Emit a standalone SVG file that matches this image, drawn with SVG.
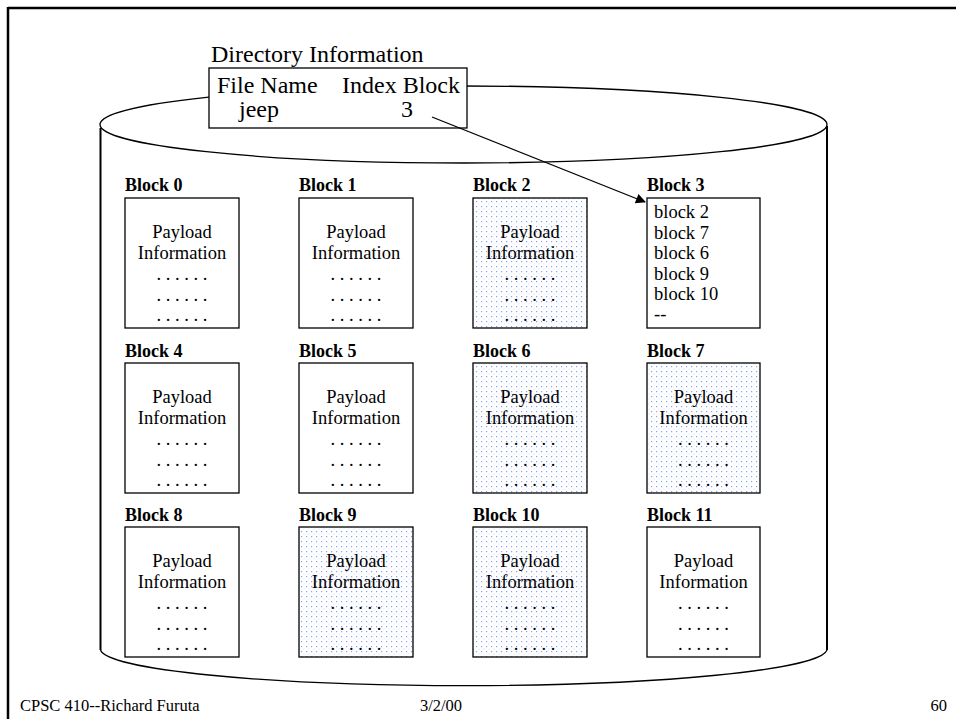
<svg xmlns="http://www.w3.org/2000/svg" width="956" height="719" viewBox="0 0 956 719">
  <defs>
    <pattern id="dots" width="5" height="5" patternUnits="userSpaceOnUse">
      <rect width="5" height="5" fill="#ffffff"/>
      <rect x="1" y="1" width="1.2" height="1.2" fill="#8aa2ee"/>
      <rect x="3.5" y="3.5" width="1" height="1" fill="#d6dff8"/>
    </pattern>
    <marker id="arrow" viewBox="0 0 10 10" refX="9" refY="5" markerWidth="14" markerHeight="10" markerUnits="userSpaceOnUse" orient="auto">
      <path d="M0,0 L10,5 L0,10 z" fill="#000"/>
    </marker>
  </defs>
  <style>
    .serif { font-family: "Liberation Serif", "Times New Roman", serif; fill: #000; }
    .lbl { font-size: 18px; font-weight: bold; }
    .body { font-size: 18.5px; }
    .mid { text-anchor: middle; }
    .box { fill: #fff; stroke: #000; stroke-width: 1.3; }
    .box.used { fill: url(#dots); }
    .edge { fill: none; stroke: #000; }
  </style>

  <rect width="956" height="719" fill="#fff"/>

  <!-- page frame -->
  <g id="frame">
    <line x1="8" y1="8" x2="956" y2="8" stroke="#000" stroke-width="2.5"/>
    <line x1="8" y1="7" x2="8" y2="719" stroke="#000" stroke-width="2.5"/>
  </g>

  <!-- disk cylinder -->
  <g id="disk">
    <ellipse cx="463.5" cy="124.5" rx="363.5" ry="38.5" class="edge" stroke-width="1.3"/>
    <line x1="100.5" y1="128" x2="100.5" y2="650" stroke="#000" stroke-width="2"/>
    <line x1="827" y1="126" x2="827" y2="650" stroke="#000" stroke-width="2"/>
    <path d="M100.5,650 A363.5,37 0 0 0 827,650" class="edge" stroke-width="1.3"/>
  </g>

  <!-- directory entry -->
  <g id="directory">
    <text x="211" y="62" class="serif" font-size="24">Directory Information</text>
    <rect x="209" y="68" width="258" height="60" class="box"/>
    <text x="217" y="93" class="serif" font-size="24">File Name</text>
    <text x="342" y="93" class="serif" font-size="24">Index Block</text>
    <text x="239" y="117" class="serif" font-size="24">jeep</text>
    <text x="401" y="117" class="serif" font-size="24">3</text>
  </g>

  <!-- row 1 -->
  <g id="block0" class="serif">
    <text x="125" y="191" class="lbl">Block 0</text>
    <rect x="125" y="198" width="114" height="130" class="box"/>
    <text x="182" y="238" class="body mid">Payload</text>
    <text x="182" y="259" class="body mid">Information</text>
    <text x="182" y="280" class="body mid">. . . . . .</text>
    <text x="182" y="301" class="body mid">. . . . . .</text>
    <text x="182" y="321" class="body mid">. . . . . .</text>
  </g>
  <g id="block1" class="serif">
    <text x="299" y="191" class="lbl">Block 1</text>
    <rect x="299" y="198" width="114" height="130" class="box"/>
    <text x="356" y="238" class="body mid">Payload</text>
    <text x="356" y="259" class="body mid">Information</text>
    <text x="356" y="280" class="body mid">. . . . . .</text>
    <text x="356" y="301" class="body mid">. . . . . .</text>
    <text x="356" y="321" class="body mid">. . . . . .</text>
  </g>
  <g id="block2" class="serif">
    <text x="473" y="191" class="lbl">Block 2</text>
    <rect x="473" y="198" width="114" height="130" class="box used"/>
    <text x="530" y="238" class="body mid">Payload</text>
    <text x="530" y="259" class="body mid">Information</text>
    <text x="530" y="280" class="body mid">. . . . . .</text>
    <text x="530" y="301" class="body mid">. . . . . .</text>
    <text x="530" y="321" class="body mid">. . . . . .</text>
  </g>
  <g id="block3" class="serif">
    <text x="647" y="191" class="lbl">Block 3</text>
    <rect x="647" y="198" width="113" height="130" class="box"/>
    <text x="654" y="218" class="body">block 2</text>
    <text x="654" y="238.5" class="body">block 7</text>
    <text x="654" y="259" class="body">block 6</text>
    <text x="654" y="280" class="body">block 9</text>
    <text x="654" y="300" class="body">block 10</text>
    <text x="654" y="320" class="body">--</text>
  </g>

  <!-- row 2 -->
  <g id="block4" class="serif">
    <text x="125" y="357" class="lbl">Block 4</text>
    <rect x="125" y="363" width="114" height="130" class="box"/>
    <text x="182" y="403" class="body mid">Payload</text>
    <text x="182" y="424" class="body mid">Information</text>
    <text x="182" y="445" class="body mid">. . . . . .</text>
    <text x="182" y="466" class="body mid">. . . . . .</text>
    <text x="182" y="486" class="body mid">. . . . . .</text>
  </g>
  <g id="block5" class="serif">
    <text x="299" y="357" class="lbl">Block 5</text>
    <rect x="299" y="363" width="114" height="130" class="box"/>
    <text x="356" y="403" class="body mid">Payload</text>
    <text x="356" y="424" class="body mid">Information</text>
    <text x="356" y="445" class="body mid">. . . . . .</text>
    <text x="356" y="466" class="body mid">. . . . . .</text>
    <text x="356" y="486" class="body mid">. . . . . .</text>
  </g>
  <g id="block6" class="serif">
    <text x="473" y="357" class="lbl">Block 6</text>
    <rect x="473" y="363" width="114" height="130" class="box used"/>
    <text x="530" y="403" class="body mid">Payload</text>
    <text x="530" y="424" class="body mid">Information</text>
    <text x="530" y="445" class="body mid">. . . . . .</text>
    <text x="530" y="466" class="body mid">. . . . . .</text>
    <text x="530" y="486" class="body mid">. . . . . .</text>
  </g>
  <g id="block7" class="serif">
    <text x="647" y="357" class="lbl">Block 7</text>
    <rect x="647" y="363" width="113" height="130" class="box used"/>
    <text x="703.5" y="403" class="body mid">Payload</text>
    <text x="703.5" y="424" class="body mid">Information</text>
    <text x="703.5" y="445" class="body mid">. . . . . .</text>
    <text x="703.5" y="466" class="body mid">. . . . . .</text>
    <text x="703.5" y="486" class="body mid">. . . . . .</text>
  </g>

  <!-- row 3 -->
  <g id="block8" class="serif">
    <text x="125" y="521" class="lbl">Block 8</text>
    <rect x="125" y="527" width="114" height="130" class="box"/>
    <text x="182" y="567" class="body mid">Payload</text>
    <text x="182" y="588" class="body mid">Information</text>
    <text x="182" y="609" class="body mid">. . . . . .</text>
    <text x="182" y="630" class="body mid">. . . . . .</text>
    <text x="182" y="650" class="body mid">. . . . . .</text>
  </g>
  <g id="block9" class="serif">
    <text x="299" y="521" class="lbl">Block 9</text>
    <rect x="299" y="527" width="114" height="130" class="box used"/>
    <text x="356" y="567" class="body mid">Payload</text>
    <text x="356" y="588" class="body mid">Information</text>
    <text x="356" y="609" class="body mid">. . . . . .</text>
    <text x="356" y="630" class="body mid">. . . . . .</text>
    <text x="356" y="650" class="body mid">. . . . . .</text>
  </g>
  <g id="block10" class="serif">
    <text x="473" y="521" class="lbl">Block 10</text>
    <rect x="473" y="527" width="114" height="130" class="box used"/>
    <text x="530" y="567" class="body mid">Payload</text>
    <text x="530" y="588" class="body mid">Information</text>
    <text x="530" y="609" class="body mid">. . . . . .</text>
    <text x="530" y="630" class="body mid">. . . . . .</text>
    <text x="530" y="650" class="body mid">. . . . . .</text>
  </g>
  <g id="block11" class="serif">
    <text x="647" y="521" class="lbl">Block 11</text>
    <rect x="647" y="527" width="113" height="130" class="box"/>
    <text x="703.5" y="567" class="body mid">Payload</text>
    <text x="703.5" y="588" class="body mid">Information</text>
    <text x="703.5" y="609" class="body mid">. . . . . .</text>
    <text x="703.5" y="630" class="body mid">. . . . . .</text>
    <text x="703.5" y="650" class="body mid">. . . . . .</text>
  </g>

  <!-- index pointer -->
  <g id="connectors">
    <line x1="432" y1="117" x2="645" y2="202" class="edge" stroke-width="1.3" marker-end="url(#arrow)"/>
  </g>

  <!-- footer -->
  <g id="footer" class="serif" font-size="16.5">
    <text x="20" y="711">CPSC 410--Richard Furuta</text>
    <text x="441" y="711" class="mid">3/2/00</text>
    <text x="947" y="711" text-anchor="end">60</text>
  </g>
</svg>
